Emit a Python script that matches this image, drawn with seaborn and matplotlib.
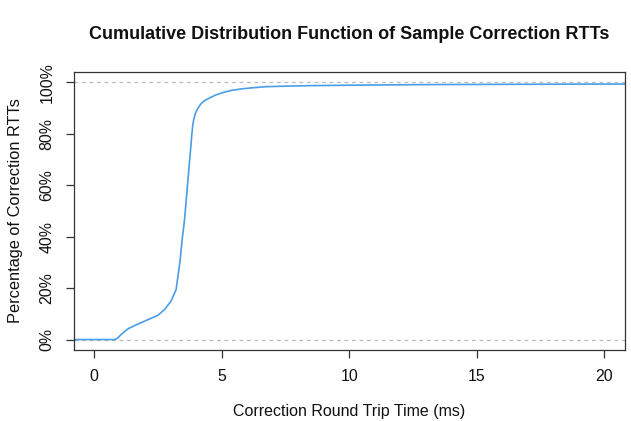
import numpy as np
import pandas as pd
import matplotlib
matplotlib.use('Agg')
import matplotlib.pyplot as plt
import seaborn as sns
from matplotlib.ticker import FuncFormatter

# RTT (ms) and cumulative share (%)
rtt_ms = [-1.0, 0.0, 0.5, 0.82, 0.92, 1.05, 1.31, 1.64, 2.03, 2.49, 2.75, 3.01, 3.21, 3.30,
          3.37, 3.45, 3.54, 3.63, 3.73, 3.78, 3.82, 3.86, 3.90, 3.97, 4.07, 4.19, 4.33, 4.52,
          4.75, 5.04, 5.40, 5.83, 6.25, 6.75, 7.53, 8.5, 10.4, 13.0, 16.0, 20.0, 21.0]
cum_pct = [0.0, 0.0, 0.0, 0.0, 0.6, 1.9, 4.1, 5.7, 7.4, 9.4, 11.6, 14.9, 19.4, 25.8,
           31.0, 39.0, 46.5, 56.8, 68.5, 74.0, 79.0, 83.0, 85.5, 88.0, 90.0, 91.7, 92.9, 93.9,
           95.0, 96.0, 96.9, 97.5, 97.9, 98.3, 98.5, 98.7, 98.9, 99.1, 99.2, 99.3, 99.3]

df = pd.DataFrame({'rtt': rtt_ms, 'cdf': np.array(cum_pct) / 100})

sns.set_style('ticks')
plt.rcParams['font.family'] = ['Liberation Sans', 'DejaVu Sans']
plt.rcParams['text.color'] = '#111111'
plt.rcParams['axes.labelcolor'] = '#111111'
plt.rcParams['xtick.labelcolor'] = '#111111'
plt.rcParams['ytick.labelcolor'] = '#111111'

fig = plt.figure(figsize=(6.31, 4.21), dpi=100)
ax = fig.add_axes([0.117, 0.169, 0.873, 0.660])

ax.axhline(0, color='#bbbbbb', linestyle=(0, (3, 3)), linewidth=0.9)
ax.axhline(1, color='#bbbbbb', linestyle=(0, (3, 3)), linewidth=0.9)
sns.lineplot(data=df, x='rtt', y='cdf', ax=ax, color='#4a9de6', linewidth=1.2)

ax.set_xlim(-0.8, 20.8)
ax.set_ylim(-0.04, 1.04)
ax.set_xticks([0, 5, 10, 15, 20])
ax.set_yticks([0, 0.2, 0.4, 0.6, 0.8, 1.0])
ax.yaxis.set_major_formatter(FuncFormatter(lambda v, p: f'{v * 100:.0f}%'))
for lab in ax.get_yticklabels():
    lab.set_rotation(90)
    lab.set_va('center')
ax.tick_params(labelsize=11.4, length=6, width=0.9, color='#333333', pad=8)

for s in ax.spines.values():
    s.set_color('#333333')
    s.set_linewidth(0.9)

ax.set_xlabel('Correction Round Trip Time (ms)', fontsize=11.5, labelpad=14)
ax.set_ylabel('Percentage of Correction RTTs', fontsize=11.8, labelpad=12)
ax.set_title('Cumulative Distribution Function of Sample Correction RTTs',
             fontsize=13, fontweight='bold', pad=24)

fig.savefig('out.png', dpi=100)
